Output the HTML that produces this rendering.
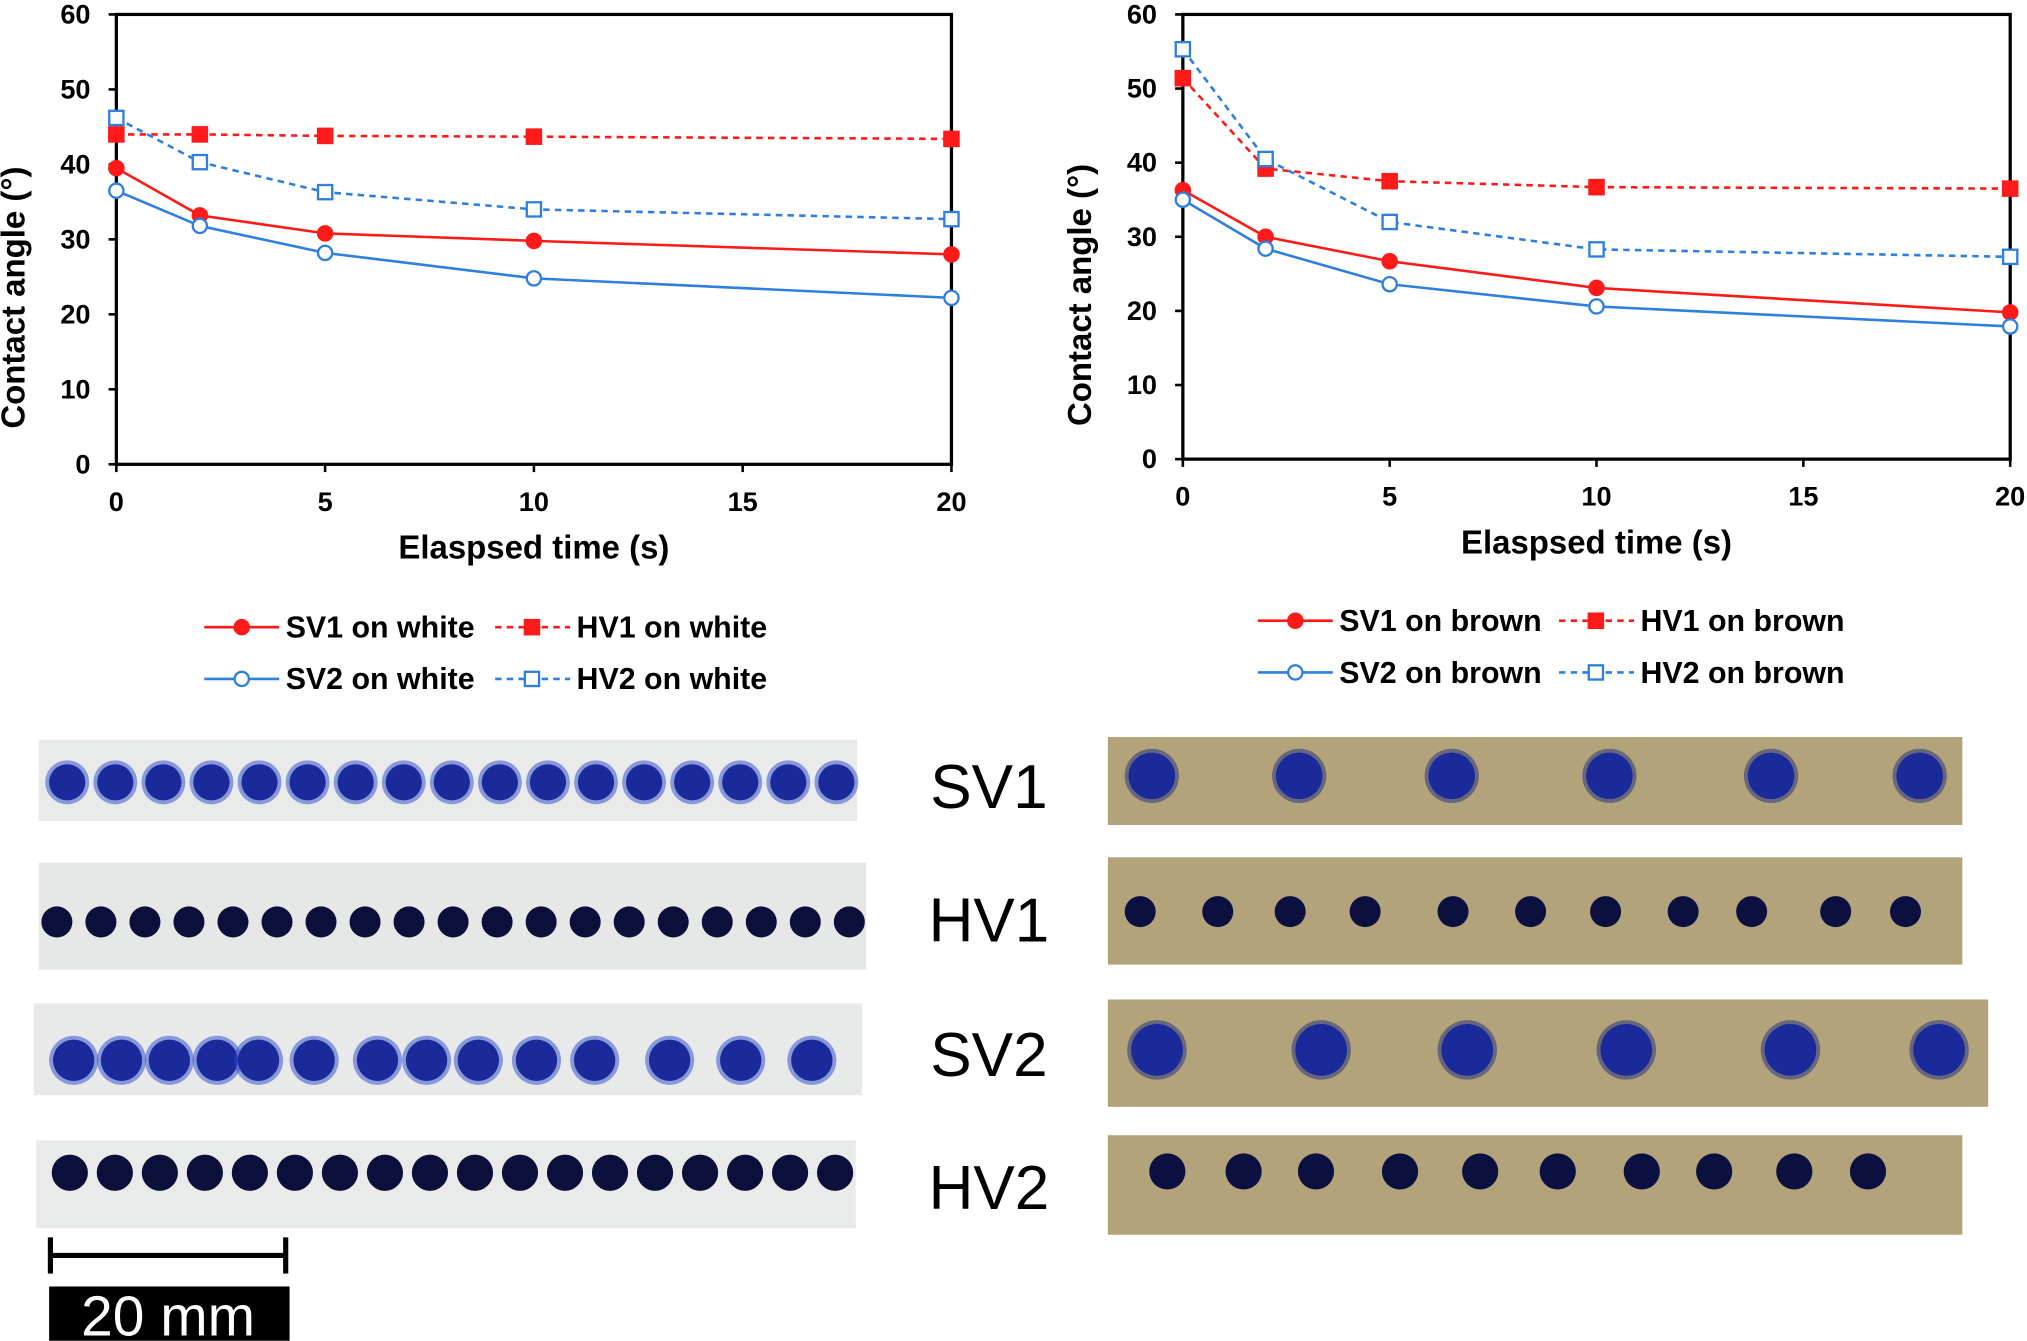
<!DOCTYPE html>
<html><head><meta charset="utf-8"><style>
html,body{margin:0;padding:0;background:#fff}
svg{display:block}
text{font-family:"Liberation Sans",Arial,sans-serif}
</style></head><body>
<svg id="root" width="2027" height="1341" viewBox="0 0 1568 1037" xmlns="http://www.w3.org/2000/svg">
<g id="charts"></g>
<g id="photos"></g>
</svg>
<script>
const times=[0,2,5,10,20];
const xTicks=[0,5,10,15,20];
const yTicks=[0,10,20,30,40,50,60];
const whiteSV1=[39.5,33.2,30.8,29.8,28.0];
const whiteHV1=[44.0,44.0,43.8,43.7,43.4];
const whiteSV2=[36.5,31.8,28.2,24.8,22.2];
const whiteHV2=[46.2,40.3,36.3,34.0,32.7];
const brownSV1=[36.3,30.0,26.7,23.1,19.8];
const brownHV1=[51.4,39.2,37.5,36.7,36.5];
const brownSV2=[35.0,28.4,23.6,20.6,17.9];
const brownHV2=[55.3,40.5,32.0,28.3,27.3];

const NS="http://www.w3.org/2000/svg";
function mk(tag,attrs,parent,txt){const e=document.createElementNS(NS,tag);for(const k in attrs)e.setAttribute(k,attrs[k]);if(txt!==undefined)e.textContent=txt;parent.appendChild(e);return e;}
const RED="#ff1a1a",BLUE="#2f7fe0";

function chart(id,x0,x1,y0,y1,series,legendY,legX,legX2,suffix,yTitleY){
  const g=mk('g',{},document.getElementById('charts'));
  
  
  const sx=v=>x0+(x1-x0)*v/20, sy=v=>y0-(y0-y1)*v/60;
  const frame=mk('rect',{x:x0,y:y1,width:x1-x0,height:y0-y1,fill:'none',stroke:'#000','stroke-width':2.5},g);
  
  
  yTicks.forEach(t=>{
    mk('line',{x1:x0-6,x2:x0,y1:sy(t),y2:sy(t),stroke:'#000','stroke-width':2},g);
    const tx=mk('text',{x:x0-20,y:sy(t)+7,'text-anchor':'end','font-size':21,'font-weight':'bold'},g,t);
    
    
  });
  xTicks.forEach(t=>{
    mk('line',{x1:sx(t),x2:sx(t),y1:y0,y2:y0+6,stroke:'#000','stroke-width':2},g);
    const tx=mk('text',{x:sx(t),y:y0+36,'text-anchor':'middle','font-size':21,'font-weight':'bold'},g,t);
    
    
  });
  const xt=mk('text',{x:(x0+x1)/2,y:y0+73,'text-anchor':'middle','font-size':25.5,'font-weight':'bold'},g,'Elaspsed time (s)');
  
  
  const yt=mk('text',{x:0,y:0,'text-anchor':'middle','font-size':25.5,'font-weight':'bold',transform:`translate(${x0-71},${yTitleY}) rotate(-90)`},g,'Contact angle (°)');
  
  
  series.forEach(s=>{
    const pts=s.vals.map((v,i)=>sx(times[i])+','+sy(v)).join(' ');
    const pl=mk('polyline',{points:pts,fill:'none',stroke:s.c,'stroke-width':2,'stroke-dasharray':s.dash?'5,4':'none'},g);
    
    
    s.vals.forEach((v,i)=>{
      let m;
      if(s.sq) m=mk('rect',{x:sx(times[i])-5.5,y:sy(v)-5.5,width:11,height:11,fill:s.fill,stroke:s.c,'stroke-width':1.8},g);
      else m=mk('circle',{cx:sx(times[i]),cy:sy(v),r:5.5,fill:s.fill,stroke:s.c,'stroke-width':1.8},g);
      
      
    });
  });
  const rows=[[series[0],series[1]],[series[2],series[3]]];
  rows.forEach((r,ri)=>{
    const y=legendY+ri*40;
    r.forEach((s,ci)=>{
      const lx=ci?legX2:legX;
      const lg=mk('g',{},g);
      
      
      mk('line',{x1:lx,x2:lx+58,y1:y,y2:y,stroke:s.c,'stroke-width':2,'stroke-dasharray':s.dash?'5,4':'none'},lg);
      if(s.sq) mk('rect',{x:lx+23,y:y-5.5,width:11,height:11,fill:s.fill,stroke:s.c,'stroke-width':1.8},lg);
      else mk('circle',{cx:lx+29,cy:y,r:5.5,fill:s.fill,stroke:s.c,'stroke-width':1.8},lg);
      mk('text',{x:lx+63,y:y+8,'font-size':23.5,'font-weight':'bold'},lg,s.label+suffix);
    });
  });
}
chart('chart-white',90,736,359,11,[
 {name:'sv1-white',vals:whiteSV1,c:RED,fill:RED,label:'SV1'},
 {name:'hv1-white',vals:whiteHV1,c:RED,fill:RED,dash:1,sq:1,label:'HV1'},
 {name:'sv2-white',vals:whiteSV2,c:BLUE,fill:'#fff',label:'SV2'},
 {name:'hv2-white',vals:whiteHV2,c:BLUE,fill:'#fff',dash:1,sq:1,label:'HV2'}],485,158,383,' on white',230);
chart('chart-brown',915,1555,355,11,[
 {name:'sv1-brown',vals:brownSV1,c:RED,fill:RED,label:'SV1'},
 {name:'hv1-brown',vals:brownHV1,c:RED,fill:RED,dash:1,sq:1,label:'HV1'},
 {name:'sv2-brown',vals:brownSV2,c:BLUE,fill:'#fff',label:'SV2'},
 {name:'hv2-brown',vals:brownHV2,c:BLUE,fill:'#fff',dash:1,sq:1,label:'HV2'}],480,973,1206,' on brown',228);

const P=document.getElementById('photos');
function strip(name,x,y,w,h,bg,cy,dots,r,col,blur){
  const g=mk('g',{},P);
  
  
  mk('rect',{x:x,y:y,width:w,height:h,fill:bg},g);
  dots.forEach(d=>{
    if(blur) mk('circle',{cx:d,cy:cy,r:r+3,fill:col,opacity:0.5},g);
    mk('circle',{cx:d,cy:cy,r:r,fill:blur?'#1a2a9a':col},g);
  });
}
const seq=(a,b,n)=>Array.from({length:n},(_,i)=>a+(b-a)*i/(n-1));
strip('strip-sv1-white',30,572,633,63,'#e9ebea',605,seq(52,647,17),14,'#2a45c8',1);
strip('strip-hv1-white',30,667,640,83,'#e6e8e7',713,seq(44,657,19),12,'#0c0f3a',0);
strip('strip-sv2-white',26,776,641,71,'#e8eaea',820,[57,94,131,168,200,243,292,330,370,415,460,518,573,628],16,'#2a45c8',1);
strip('strip-hv2-white',28,882,634,68,'#e9ebea',907,seq(54,646,18),14,'#0c0f3a',0);
const BR='#b3a37a';
strip('strip-sv1-brown',857,570,661,68,BR,600,[891,1005,1123,1245,1370,1485],18,'#1c2a80',1);
strip('strip-hv1-brown',857,663,661,83,BR,705,[882,942,998,1056,1124,1184,1242,1302,1355,1420,1474],12,'#0c1040',0);
strip('strip-sv2-brown',857,773,681,83,BR,812,[895,1022,1135,1258,1385,1500],20,'#1c2a80',1);
strip('strip-hv2-brown',857,878,661,77,BR,906,[903,962,1018,1083,1145,1205,1270,1326,1388,1445],14,'#0c1040',0);
[['SV1',625],['HV1',728],['SV2',832],['HV2',935]].forEach(l=>{
  const t=mk('text',{x:765,y:l[1],'text-anchor':'middle','font-size':48},P,l[0]);
  
  
});
const sb=mk('g',{},P);


mk('line',{x1:38,x2:222,y1:971,y2:971,stroke:'#000','stroke-width':4},sb);
mk('line',{x1:39,x2:39,y1:957,y2:985,stroke:'#000','stroke-width':4},sb);
mk('line',{x1:221,x2:221,y1:957,y2:985,stroke:'#000','stroke-width':4},sb);
mk('rect',{x:38,y:995,width:186,height:42,fill:'#000'},sb);
mk('text',{x:130,y:1033,'text-anchor':'middle','font-size':44,fill:'#fff'},sb,'20 mm');
</script>
</body></html>
